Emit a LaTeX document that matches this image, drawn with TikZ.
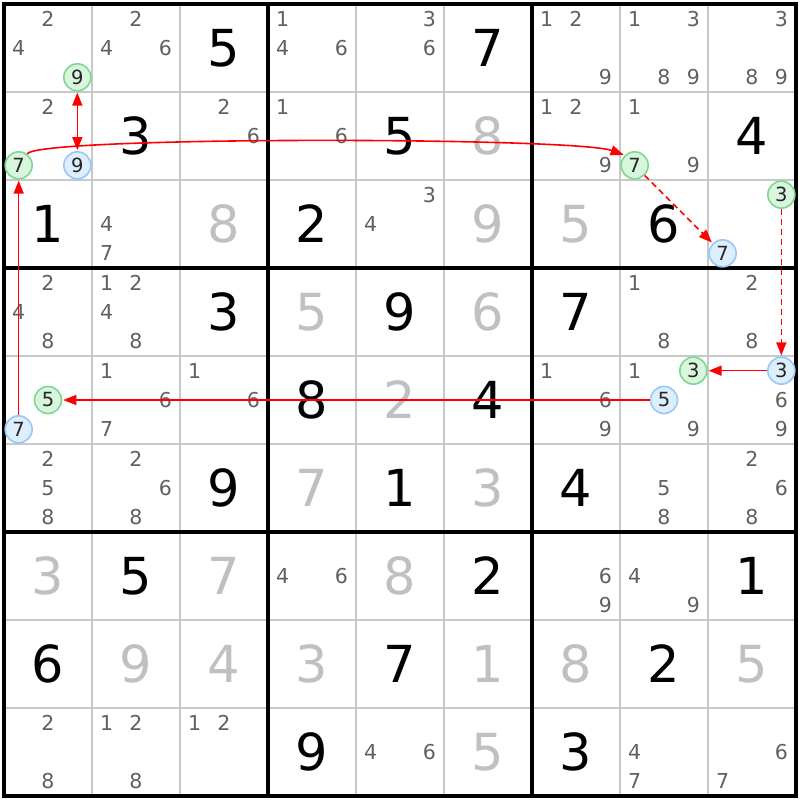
\documentclass[tikz,border=0pt]{standalone}
\usepackage{fontspec}
\setmainfont{DejaVu Sans}
\usetikzlibrary{arrows.meta}
\definecolor{thinline}{HTML}{C8C8C8}
\definecolor{candcol}{HTML}{606060}
\definecolor{prefill}{HTML}{C0C0C0}
\definecolor{gfill}{HTML}{D8F5DE}
\definecolor{gdraw}{HTML}{80D890}
\definecolor{bfill}{HTML}{DDEEFF}
\definecolor{bdraw}{HTML}{99C8F8}
\definecolor{arrred}{HTML}{FF0000}
\tikzset{
  candtxt/.style={inner sep=0pt,text=candcol,font=\fontsize{20.5}{21}\selectfont},
  givtxt/.style={inner sep=0pt,text=black,font=\fontsize{51}{53}\selectfont},
  pretxt/.style={inner sep=0pt,text=prefill,font=\fontsize{51}{53}\selectfont},
  gcirc/.style={circle,draw=gdraw,fill=gfill,line width=1.6pt,minimum size=27pt,inner sep=0pt,text=black!85,font=\fontsize{19.5}{20}\selectfont},
  bcirc/.style={circle,draw=bdraw,fill=bfill,line width=1.6pt,minimum size=27pt,inner sep=0pt,text=black!85,font=\fontsize{19.5}{20}\selectfont},
  arr/.style={draw=arrred,line width=1.6pt,-{Triangle[length=13pt,width=10pt]},shorten >=1pt},
  dasharr/.style={arr,dash pattern=on 6pt off 4pt},
  thingrid/.style={draw=thinline,line width=1.5pt},
  thickgrid/.style={draw=black,line width=3.5pt}
}
\newcommand\cnd[3]{%
  \foreach \d in {#3}{%
    \pgfmathsetmacro\cx{4+88*(#2-1)+88/6*(2*mod(\d-1,3)+1)}%
    \pgfmathsetmacro\cy{4+88*(#1-1)+88/6*(2*floor((\d-1)/3)+1)}%
    \node[candtxt] at (\cx,\cy) {\d};
  }}
\newcommand\giv[3]{\node[givtxt] at ({4+88*(#2-0.5)},{4+88*(#1-0.5)}) {#3};}
\newcommand\pre[3]{\node[pretxt] at ({4+88*(#2-0.5)},{4+88*(#1-0.5)}) {#3};}
\newcommand\hc[5]{% style name row col digit
  \pgfmathsetmacro\cx{4+88*(#3-1)+88/6*(2*mod(#5-1,3)+1)}%
  \pgfmathsetmacro\cy{4+88*(#4-1)+88/6*(2*floor((#5-1)/3)+1)}%
  \node[#1] (#2) at (\cx,\cy) {#5};}
\begin{document}
\begin{tikzpicture}[x=1pt,y=-1pt]
\useasboundingbox (0,0) rectangle (800,800);
\fill[white] (0,0) rectangle (800,800);
% thin grid
\foreach \i in {1,2,4,5,7,8}{
  \draw[thingrid] ({4+88*\i},4) -- ({4+88*\i},796);
  \draw[thingrid] (4,{4+88*\i}) -- (796,{4+88*\i});
}
\foreach \i in {3,6}{
  \draw[thickgrid] ({4+88*\i},4) -- ({4+88*\i},796);
  \draw[thickgrid] (4,{4+88*\i}) -- (796,{4+88*\i});
}
\draw[thickgrid] (4,4) rectangle (796,796);
% givens
\giv{1}{3}{5}\giv{1}{6}{7}\giv{2}{2}{3}\giv{2}{5}{5}\giv{2}{9}{4}
\giv{3}{1}{1}\giv{3}{4}{2}\giv{3}{8}{6}\giv{4}{3}{3}\giv{4}{5}{9}
\giv{4}{7}{7}\giv{5}{4}{8}\giv{5}{6}{4}\giv{6}{3}{9}\giv{6}{5}{1}
\giv{6}{7}{4}\giv{7}{2}{5}\giv{7}{6}{2}\giv{7}{9}{1}\giv{8}{1}{6}
\giv{8}{5}{7}\giv{8}{8}{2}\giv{9}{4}{9}\giv{9}{7}{3}
% placed (gray)
\pre{2}{6}{8}\pre{3}{3}{8}\pre{3}{6}{9}\pre{3}{7}{5}\pre{4}{4}{5}
\pre{4}{6}{6}\pre{5}{5}{2}\pre{6}{4}{7}\pre{6}{6}{3}\pre{7}{1}{3}
\pre{7}{3}{7}\pre{7}{5}{8}\pre{8}{2}{9}\pre{8}{3}{4}\pre{8}{4}{3}
\pre{8}{6}{1}\pre{8}{7}{8}\pre{8}{9}{5}\pre{9}{6}{5}
% candidates
\cnd{1}{1}{2,4}\cnd{1}{2}{2,4,6}\cnd{1}{4}{1,4,6}\cnd{1}{5}{3,6}
\cnd{1}{7}{1,2,9}\cnd{1}{8}{1,3,8,9}\cnd{1}{9}{3,8,9}
\cnd{2}{1}{2}\cnd{2}{3}{2,6}\cnd{2}{4}{1,6}\cnd{2}{7}{1,2,9}\cnd{2}{8}{1,9}
\cnd{3}{2}{4,7}\cnd{3}{5}{3,4}
\cnd{4}{1}{2,4,8}\cnd{4}{2}{1,2,4,8}\cnd{4}{8}{1,8}\cnd{4}{9}{2,8}
\cnd{5}{2}{1,6,7}\cnd{5}{3}{1,6}\cnd{5}{7}{1,6,9}\cnd{5}{8}{1,9}\cnd{5}{9}{6,9}
\cnd{6}{1}{2,5,8}\cnd{6}{2}{2,6,8}\cnd{6}{8}{5,8}\cnd{6}{9}{2,6,8}
\cnd{7}{4}{4,6}\cnd{7}{7}{6,9}\cnd{7}{8}{4,9}
\cnd{9}{1}{2,8}\cnd{9}{2}{1,2,8}\cnd{9}{3}{1,2}\cnd{9}{5}{4,6}
\cnd{9}{8}{4,7}\cnd{9}{9}{6,7}
% highlighted candidates
\hc{gcirc}{gnine}{1}{1}{9}
\hc{bcirc}{bnine}{1}{2}{9}
\hc{gcirc}{gsevA}{1}{2}{7}
\hc{gcirc}{gsevB}{8}{2}{7}
\hc{bcirc}{bsevA}{9}{3}{7}
\hc{gcirc}{gthrA}{9}{3}{3}
\hc{bcirc}{bthr}{9}{5}{3}
\hc{gcirc}{gthrB}{8}{5}{3}
\hc{bcirc}{bfive}{8}{5}{5}
\hc{gcirc}{gfive}{1}{5}{5}
\hc{bcirc}{bsevB}{1}{5}{7}
% links
\draw[arr,{Triangle[length=13pt,width=10pt]}-{Triangle[length=13pt,width=10pt]},shorten <=1pt] (gnine) -- (bnine);
\draw[arr] (gsevA) .. controls (40,136) and (575,137) .. (gsevB.135);
\draw[dasharr] (gsevB) -- (bsevA);
\draw[dasharr] (gthrA) -- (bthr);
\draw[arr] (bthr) -- (gthrB);
\draw[arr] (bfive) -- (gfive);
\draw[arr] (bsevB) -- (gsevA);
\end{tikzpicture}
\end{document}
